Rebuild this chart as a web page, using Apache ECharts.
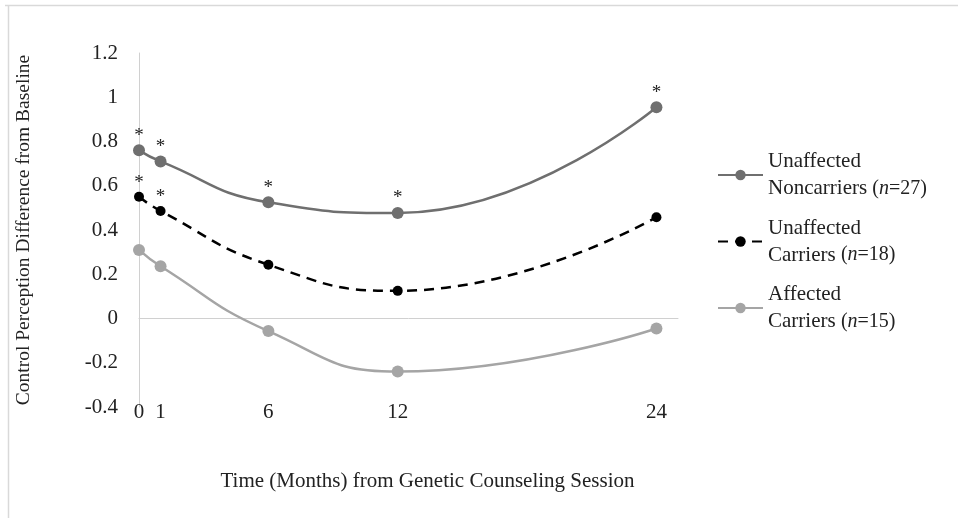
<!DOCTYPE html>
<html>
<head>
<meta charset="utf-8">
<script src="https://cdn.jsdelivr.net/npm/echarts@6/dist/echarts.min.js"></script>
<style>html,body{margin:0;padding:0;background:#fff;}#c{width:958px;height:518px;}</style>
</head>
<body>
<div id="c"></div>
<script>
var months = [0, 1, 6, 12, 24];
var xTickLabels = [0, 1, 6, 12, 24];
var noncarriers = [0.76, 0.71, 0.525, 0.477, 0.955];
var carriers = [0.55, 0.486, 0.243, 0.125, 0.458];
var affected = [0.31, 0.236, -0.057, -0.24, -0.045];
var noncarrierStars = [true, true, true, true, true];
var carrierStars = [true, true, false, false, false];
var seriesNames = ['Unaffected Noncarriers (n=27)', 'Unaffected Carriers (n=18)', 'Affected Carriers (n=15)'];
var legendLines = {
  'Unaffected Noncarriers (n=27)': ['Unaffected', 'Noncarriers ', '27'],
  'Unaffected Carriers (n=18)': ['Unaffected', 'Carriers ', '18'],
  'Affected Carriers (n=15)': ['Affected', 'Carriers ', '15']
};

function pairs(vals, stars) {
  return months.map(function (m, i) {
    var d = { value: [m, vals[i]] };
    if (stars && stars[i]) {
      d.label = { show: true, formatter: '*', position: 'top', distance: -1, fontFamily: 'Liberation Serif', fontSize: 19, color: '#222' };
    }
    return d;
  });
}

var font = 'Liberation Serif';
var chart = echarts.init(document.getElementById('c'));
chart.setOption({
  animation: false,
  backgroundColor: '#fff',
  graphic: [
    { type: 'line', shape: { x1: 5, y1: 5.5, x2: 958, y2: 5.5 }, style: { stroke: '#d9d9d9', lineWidth: 1.5 } },
    { type: 'line', shape: { x1: 8.5, y1: 5, x2: 8.5, y2: 518 }, style: { stroke: '#d9d9d9', lineWidth: 1.5 } }
  ],
  grid: { left: 139, right: 280, top: 53, bottom: 111, containLabel: false },
  legend: {
    orient: 'vertical',
    left: 712,
    top: 146,
    itemWidth: 45,
    itemHeight: 13,
    itemGap: 18.5,
    data: seriesNames,
    formatter: function (name) {
      var l = legendLines[name];
      return '{a|' + l[0] + '}\n{a|' + l[1] + '}{i|(}{n|n}{i|=' + l[2] + ')}';
    },
    textStyle: {
      fontFamily: font,
      color: '#222',
      rich: {
        a: { fontFamily: font, fontSize: 21, color: '#222', lineHeight: 27 },
        i: { fontFamily: font, fontSize: 20, color: '#222', lineHeight: 27 },
        n: { fontFamily: font, fontSize: 20, fontStyle: 'italic', color: '#222', lineHeight: 27 }
      }
    }
  },
  xAxis: {
    type: 'value',
    min: 0,
    max: 25,
    position: 'bottom',
    axisLine: { show: true, onZero: true, lineStyle: { color: '#d0d0d0', width: 1 } },
    axisTick: { show: false },
    splitLine: { show: false },
    axisLabel: {
      customValues: xTickLabels,
      fontFamily: font, fontSize: 21, color: '#222', margin: -5
    },
    name: 'Time (Months) from Genetic Counseling Session',
    nameLocation: 'middle',
    nameGap: 64,
    nameTextStyle: { fontFamily: font, fontSize: 21, color: '#222', padding: [0, 0, 0, 38] }
  },
  yAxis: {
    type: 'value',
    min: -0.4,
    max: 1.2,
    interval: 0.2,
    axisLine: { show: true, onZero: false, lineStyle: { color: '#d0d0d0', width: 1 } },
    axisTick: { show: false },
    splitLine: { show: false },
    axisLabel: {
      fontFamily: font, fontSize: 21, color: '#222', margin: 21,
      formatter: function (v) { return String(Math.round(v * 10) / 10); }
    },
    name: 'Control Perception Difference from Baseline',
    nameLocation: 'middle',
    nameGap: 105,
    nameTextStyle: { fontFamily: font, fontSize: 19.5, color: '#222' }
  },
  series: [
    {
      name: seriesNames[0], type: 'line', smooth: 0.5,
      data: pairs(noncarriers, noncarrierStars),
      symbol: 'circle', symbolSize: 12,
      lineStyle: { color: '#6f6f6f', width: 2.5 },
      itemStyle: { color: '#6f6f6f' }
    },
    {
      name: seriesNames[1], type: 'line', smooth: 0.5,
      data: pairs(carriers, carrierStars),
      symbol: 'circle', symbolSize: 10,
      lineStyle: { color: '#000', width: 2.5, type: [10, 7] },
      itemStyle: { color: '#000' }
    },
    {
      name: seriesNames[2], type: 'line', smooth: 0.5,
      data: pairs(affected, null),
      symbol: 'circle', symbolSize: 12,
      lineStyle: { color: '#a5a5a5', width: 2.5 },
      itemStyle: { color: '#a5a5a5' }
    }
  ]
});
</script>
</body>
</html>
